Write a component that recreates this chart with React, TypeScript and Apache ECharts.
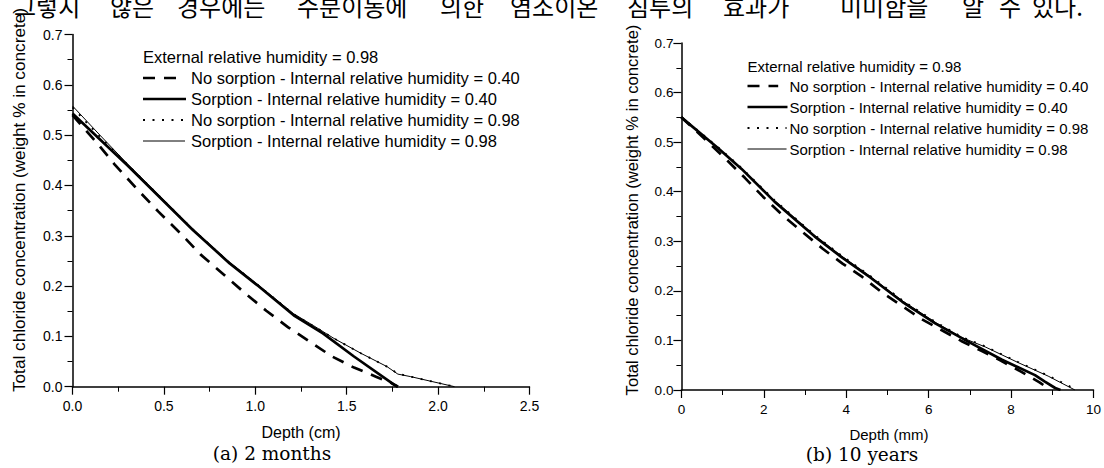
import React, { useEffect, useRef } from "react";
import * as echarts from "echarts";

const FONT = "'Liberation Sans', Arial, sans-serif";

const SERIES_NAMES = [
  "No sorption - Internal relative humidity = 0.40",
  "Sorption - Internal relative humidity = 0.40",
  "No sorption - Internal relative humidity = 0.98",
  "Sorption - Internal relative humidity = 0.98",
];
const LEGEND_HEADER = "External relative humidity = 0.98";

const Y_TITLE = "Total chloride concentration (weight % in concrete)";
const A_X_TITLE = "Depth (cm)";
const B_X_TITLE = "Depth (mm)";
const A_CAPTION = "(a) 2 months";
const B_CAPTION = "(b) 10 years";

const KOREAN_WORDS = [
  "그렇지", "않은", "경우에는", "수분이동에", "의한", "염소이온",
  "침투의", "효과가", "미미함을", "알", "수", "있다.",
];
const KOREAN_WORD_X = [14, 110, 177, 297, 440, 510, 627, 723, 840, 962, 999, 1032];

// tick labels
const A_X_TICKS = ["0.0", "0.5", "1.0", "1.5", "2.0", "2.5"];
const B_X_TICKS = ["0", "2", "4", "6", "8", "10"];
const Y_TICKS = ["0.0", "0.1", "0.2", "0.3", "0.4", "0.5", "0.6", "0.7"];

// (a) 2 months : [depth cm, chloride %]
const A_NOSORP_040: [number, number][] = [
  [0, 0.54], [0.13, 0.486], [0.23, 0.442], [0.35, 0.394], [0.47, 0.348],
  [0.59, 0.305], [0.7, 0.263], [0.83, 0.222], [0.95, 0.184], [1.06, 0.151],
  [1.18, 0.118], [1.3, 0.089], [1.42, 0.06], [1.54, 0.038], [1.66, 0.02],
  [1.74, 0.008], [1.78, 0.0],
];
const A_SORP_040: [number, number][] = [
  [0, 0.543], [0.3, 0.44], [0.66, 0.311], [0.86, 0.245], [1.01, 0.202],
  [1.21, 0.142], [1.37, 0.106], [1.54, 0.06], [1.755, 0.005], [1.78, 0.0],
];
const A_NOSORP_098: [number, number][] = [
  [0, 0.555], [0.15, 0.497], [0.3, 0.442], [0.66, 0.312], [0.86, 0.246],
  [1.01, 0.203], [1.21, 0.144], [1.32, 0.12], [1.43, 0.096], [1.58, 0.066],
  [1.72, 0.04], [1.78, 0.026], [1.85, 0.02], [2.09, 0.0],
];
const A_SORP_098: [number, number][] = [
  [0, 0.558], [0.15, 0.5], [0.3, 0.443], [0.66, 0.313], [0.86, 0.247],
  [1.01, 0.204], [1.21, 0.145], [1.32, 0.121], [1.43, 0.096], [1.58, 0.066],
  [1.72, 0.04], [1.78, 0.025], [1.85, 0.02], [2.09, 0.0],
];

// (b) 10 years : [depth mm, chloride %]
const B_NOSORP_040: [number, number][] = [
  [0, 0.55], [0.61, 0.503], [1.09, 0.465], [1.54, 0.428], [1.98, 0.39],
  [2.46, 0.352], [2.95, 0.318], [3.43, 0.285], [3.91, 0.255], [4.39, 0.228],
  [4.88, 0.196], [5.36, 0.169], [5.84, 0.1425], [6.31, 0.121], [6.79, 0.099],
  [7.28, 0.079], [7.76, 0.059], [8.22, 0.038], [8.7, 0.015], [8.95, 0.0],
];
const B_SORP_040: [number, number][] = [
  [0, 0.55], [0.9, 0.487], [1.46, 0.446], [2.26, 0.38], [3.23, 0.31],
  [3.87, 0.269], [4.6, 0.226], [5.36, 0.178], [6.17, 0.134], [6.97, 0.097],
  [7.78, 0.061], [8.58, 0.03], [8.82, 0.017], [9.07, 0.004], [9.2, 0.0],
];
const B_NOSORP_098: [number, number][] = [
  [0, 0.551], [0.9, 0.489], [1.46, 0.448], [2.26, 0.383], [3.23, 0.313],
  [3.87, 0.272], [4.6, 0.229], [5.36, 0.181], [6.17, 0.137], [6.8, 0.107],
  [7.37, 0.088], [8.18, 0.056], [8.9, 0.029], [9.6, 0.0],
];
const B_SORP_098: [number, number][] = [
  [0, 0.55], [0.9, 0.488], [1.46, 0.447], [2.26, 0.382], [3.23, 0.312],
  [3.87, 0.271], [4.6, 0.228], [5.36, 0.18], [6.17, 0.136], [6.8, 0.106],
  [7.37, 0.087], [8.18, 0.055], [8.9, 0.028], [9.55, 0.0],
];

const LINE_STYLES = [
  { width: 2.7, type: [12, 9] as number[], sample: 33 },
  { width: 2.7, type: "solid", sample: 43 },
  { width: 1.8, type: [2, 7.5] as number[], sample: 42 },
  { width: 1, type: "solid", sample: 42 },
];

function makeXAxis(grid: number, ticks: string[], fontSize: number) {
  const min = parseFloat(ticks[0]);
  const max = parseFloat(ticks[ticks.length - 1]);
  const interval = parseFloat(ticks[1]) - min;
  return {
    type: "value",
    gridIndex: grid,
    min,
    max,
    interval,
    axisLine: { show: true, lineStyle: { color: "#000", width: 1.5 } },
    axisTick: { show: true, inside: false, length: 8, lineStyle: { color: "#000", width: 1.2 } },
    minorTick: { show: true, splitNumber: 2, length: 5, lineStyle: { color: "#000", width: 1 } },
    splitLine: { show: false },
    minorSplitLine: { show: false },
    axisLabel: {
      color: "#000",
      fontFamily: FONT,
      fontSize,
      margin: 12,
      formatter: (v: number) => ticks[Math.round((v - min) / interval)] ?? "",
    },
  };
}

function makeYAxis(grid: number, fontSize: number, margin: number) {
  const min = parseFloat(Y_TICKS[0]);
  const max = parseFloat(Y_TICKS[Y_TICKS.length - 1]);
  const interval = parseFloat(Y_TICKS[1]) - min;
  return {
    type: "value",
    gridIndex: grid,
    min,
    max,
    interval,
    axisLine: { show: true, lineStyle: { color: "#000", width: 1.5 } },
    axisTick: { show: true, inside: false, length: 8, lineStyle: { color: "#000", width: 1.2 } },
    minorTick: { show: true, splitNumber: 2, length: 5, lineStyle: { color: "#000", width: 1 } },
    splitLine: { show: false },
    minorSplitLine: { show: false },
    axisLabel: {
      color: "#000",
      fontFamily: FONT,
      fontSize,
      margin,
      formatter: (v: number) => Y_TICKS[Math.round((v - min) / interval)] ?? "",
    },
  };
}

function makeSeries(grid: number, datasets: [number, number][][]) {
  return datasets.map((d, i) => ({
    name: SERIES_NAMES[i],
    type: "line",
    xAxisIndex: grid,
    yAxisIndex: grid,
    data: d,
    symbol: "none",
    showSymbol: false,
    color: "#000",
    lineStyle: { color: "#000", width: LINE_STYLES[i].width, type: LINE_STYLES[i].type },
    z: 2 + i,
  }));
}

function makeLegend(x: number, headerY: number, firstRowY: number, rowGap: number, textX: number, fontSize: number, sampleScale: number) {
  const els: any[] = [
    {
      type: "text", x, y: headerY,
      style: { text: LEGEND_HEADER, fontFamily: FONT, fontSize, fill: "#000", align: "left", verticalAlign: "middle" },
    },
  ];
  SERIES_NAMES.forEach((name, i) => {
    const y = firstRowY + i * rowGap;
    const st = LINE_STYLES[i];
    els.push({
      type: "line",
      shape: { x1: x, y1: y, x2: x + st.sample * sampleScale, y2: y },
      style: {
        stroke: "#000",
        lineWidth: st.width,
        lineDash: Array.isArray(st.type) ? st.type : null,
        lineCap: "butt",
      },
    });
    els.push({
      type: "text", x: textX, y,
      style: { text: name, fontFamily: FONT, fontSize, fill: "#000", align: "left", verticalAlign: "middle" },
    });
  });
  return els;
}

export default function App() {
  const ref = useRef<HTMLDivElement>(null);
  useEffect(() => {
    if (!ref.current) return;
    const chart = echarts.init(ref.current, undefined, { renderer: "svg" });
    const option = {
      animation: false,
      backgroundColor: "#fff",
      grid: [
        { left: 72.5, top: 34.5, width: 457, height: 352.2 },
        { left: 681.4, top: 43, width: 414, height: 347 },
      ],
      xAxis: [makeXAxis(0, A_X_TICKS, 14), makeXAxis(1, B_X_TICKS, 13.5)],
      yAxis: [makeYAxis(0, 14, 10), makeYAxis(1, 13.5, 8)],
      series: [
        ...makeSeries(0, [A_NOSORP_040, A_SORP_040, A_NOSORP_098, A_SORP_098]),
        ...makeSeries(1, [B_NOSORP_040, B_SORP_040, B_NOSORP_098, B_SORP_098]),
      ],
      graphic: [
        ...KOREAN_WORDS.map((w, i) => ({
          type: "text",
          x: KOREAN_WORD_X[i],
          y: 5,
          style: {
            text: w,
            fontFamily: "'Noto Sans CJK KR', sans-serif",
            fontSize: 24,
            fill: "#000",
            align: "left",
            verticalAlign: "middle",
          },
        })),
        ...makeLegend(143, 57, 78, 21, 191, 16.5, 1),
        ...makeLegend(747.5, 66, 86, 21, 789.5, 15, 0.93),
        {
          type: "text", x: 19, y: 200, rotation: Math.PI / 2,
          style: { text: Y_TITLE, fontFamily: FONT, fontSize: 17.2, fill: "#000", align: "center", verticalAlign: "middle" },
        },
        {
          type: "text", x: 632, y: 210, rotation: Math.PI / 2,
          style: { text: Y_TITLE, fontFamily: FONT, fontSize: 16.6, fill: "#000", align: "center", verticalAlign: "middle" },
        },
        {
          type: "text", x: 301, y: 432,
          style: { text: A_X_TITLE, fontFamily: FONT, fontSize: 16, fill: "#000", align: "center", verticalAlign: "middle" },
        },
        {
          type: "text", x: 889, y: 434,
          style: { text: B_X_TITLE, fontFamily: FONT, fontSize: 15, fill: "#000", align: "center", verticalAlign: "middle" },
        },
        {
          type: "text", x: 272, y: 453,
          style: { text: A_CAPTION, fontFamily: "'DejaVu Serif', serif", fontSize: 18.5, fill: "#000", align: "center", verticalAlign: "middle" },
        },
        {
          type: "text", x: 862, y: 454,
          style: { text: B_CAPTION, fontFamily: "'DejaVu Serif', serif", fontSize: 18.5, fill: "#000", align: "center", verticalAlign: "middle" },
        },
      ],
    };
    chart.setOption(option as any);
    return () => chart.dispose();
  }, []);
  return (
    <div
      ref={ref}
      style={{ position: "absolute", left: 0, top: 0, width: 1104, height: 468, background: "#fff" }}
    />
  );
}
